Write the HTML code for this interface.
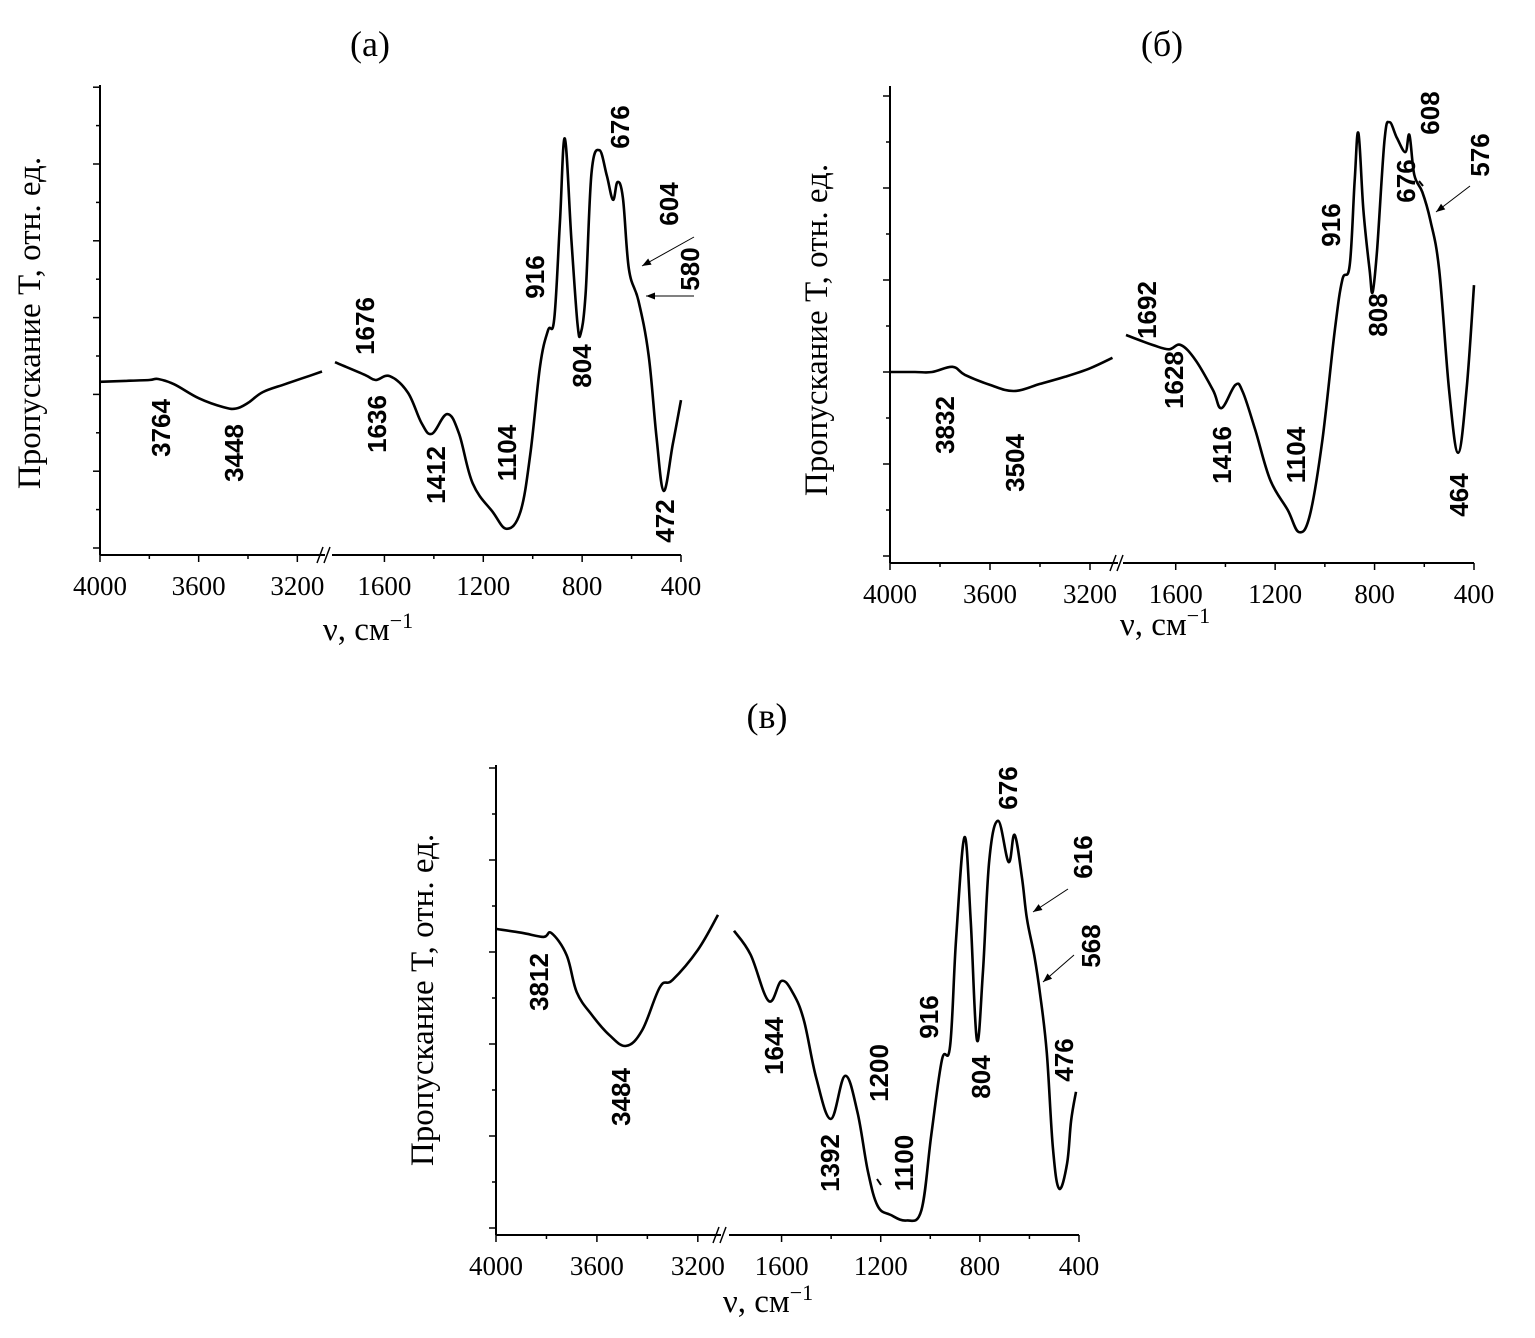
<!DOCTYPE html>
<html><head><meta charset="utf-8">
<style>
html,body{margin:0;padding:0;background:#fff;}
svg{display:block;}
.tick{font-family:"Liberation Serif",serif;font-size:27px;fill:#000;}
.ann{font-family:"Liberation Sans",sans-serif;font-weight:bold;font-size:26px;fill:#000;}
.ttl{font-family:"Liberation Serif",serif;font-size:36px;fill:#000;}
.axt{font-family:"Liberation Serif","DejaVu Serif",serif;font-size:33px;fill:#000;}
</style></head>
<body>
<svg id="fig" width="1535" height="1338" viewBox="0 0 1535 1338" xmlns="http://www.w3.org/2000/svg"></svg>
<script>
// ---- data: [wavenumber, transmittance (rel. units 0..100)] ----
const specA_left = [[4000,37],[3900,37.2],[3800,37.4],[3764,37.6],[3700,36.5],[3600,33.5],[3500,31.6],[3448,31.3],[3400,32.5],[3340,34.8],[3250,36.5],[3150,38.3],[3100,39.2]];
const specA_right = [[1800,41.2],[1680,38.5],[1636,37.4],[1578,38.2],[1505,34.7],[1450,28.2],[1408,25.9],[1346,30.1],[1298,25.9],[1243,15.3],[1162,9.2],[1105,5.6],[1050,9.2],[1010,21.4],[970,40.4],[938,48],[913,50.4],[890,71],[870,89],[843,67],[819,49.6],[806,47.3],[786,55.8],[762,81.6],[730,86.5],[700,81],[675,75.9],[657,79.7],[635,76.3],[611,61.1],[572,54.3],[531,42.7],[499,25.2],[470,13.7],[433,23.7],[400,33.1]];
const specB_left = [[4000,40.2],[3900,40.2],[3832,40.2],[3750,41.3],[3700,39.6],[3600,37.5],[3504,36.2],[3400,37.7],[3300,39.2],[3200,41],[3110,43.2]];
const specB_right = [[1800,48],[1692,45.9],[1628,45],[1580,45.9],[1520,42.7],[1450,36.4],[1416,32.6],[1360,37.5],[1330,36],[1280,28],[1220,17.5],[1150,11.2],[1104,6.5],[1060,10.1],[1010,25.9],[960,49],[930,59.6],[900,62.7],[880,80.6],[865,90.5],[845,74.3],[820,61.7],[808,57],[790,65.9],[760,89],[740,92.8],[710,89.5],[676,86.5],[660,90.1],[640,81.7],[608,78.1],[576,72.2],[540,61.7],[500,36.4],[464,23.2],[430,36.4],[400,58.5]];
const specC_left = [[4000,65.4],[3900,64.6],[3812,63.7],[3780,64.5],[3720,59.8],[3680,51.9],[3620,47],[3550,42.7],[3484,40.4],[3420,43.8],[3350,53],[3300,54.5],[3200,60.9],[3120,68.4]];
const specC_right = [[1792,65],[1725,59.9],[1652,50],[1600,54.3],[1552,51.5],[1509,45.7],[1460,33.5],[1401,24.8],[1344,34],[1294,26.3],[1252,13.7],[1212,6.2],[1160,4.3],[1096,3.1],[1036,5.3],[996,21.4],[953,37.4],[920,40.4],[896,63.3],[862,85],[837,67.2],[812,41.7],[788,55.8],[762,80.1],[726,88.5],[684,79.7],[660,85.5],[630,76.3],[610,67.5],[580,59.6],[556,51.1],[530,38.9],[505,18.4],[480,9.9],[448,15.3],[432,24.4],[412,30.6]];
const tickLeft = [4000,3600,3200];
const tickRight = [1600,1200,800,400];
const tickLabelsLeft = ["4000","3600","3200"];
const tickLabelsRight = ["1600","1200","800","400"];
const labelsA = ["3764","3448","1676","1636","1412","1104","916","804","676","604","580","472"];
const labelsB = ["3832","3504","1692","1628","1416","1104","916","808","676","608","576","464"];
const labelsC = ["3812","3484","1644","1392","1200","1100","916","804","676","616","568","476"];

const NS="http://www.w3.org/2000/svg";
const svg=document.getElementById('fig');
function el(tag,attrs,parent){const e=document.createElementNS(NS,tag);for(const k in attrs)e.setAttribute(k,attrs[k]);(parent||svg).appendChild(e);return e;}
function smooth(pts){
  let d='M'+pts[0][0].toFixed(1)+' '+pts[0][1].toFixed(1);
  for(let i=0;i<pts.length-1;i++){
    const p0=pts[i-1]||pts[i],p1=pts[i],p2=pts[i+1],p3=pts[i+2]||p2;
    const t=0.18;
    const c1=[p1[0]+(p2[0]-p0[0])*t,p1[1]+(p2[1]-p0[1])*t];
    const c2=[p2[0]-(p3[0]-p1[0])*t,p2[1]-(p3[1]-p1[1])*t];
    d+=` C${c1[0].toFixed(1)} ${c1[1].toFixed(1)} ${c2[0].toFixed(1)} ${c2[1].toFixed(1)} ${p2[0].toFixed(1)} ${p2[1].toFixed(1)}`;
  }
  return d;
}

const panels=[
 {id:'a',title:'(а)',tx:370,ty:56,X0:100,Y0:555,Ytop:87,lEnd:322,rStart:335,X1:681,lDom:[4000,3100],rDom:[1800,400],minor:38.4,left:specA_left,right:specA_right,
  labels:labelsA,lpos:[[161,428],[234,453],[365,326],[377,424],[436,475],[507,453],[535,277],[582,366],[620,127],[669,204],[690,269],[665,521]],
  arrows:[[694,237,642,266],[694,296,646,296]],marks:[],yt:[30,323],xt:[368,640]},
 {id:'b',title:'(б)',tx:1162,ty:56,X0:890,Y0:563,Ytop:88,lEnd:1115,rStart:1126,X1:1474,lDom:[4000,3100],rDom:[1800,400],minor:46,left:specB_left,right:specB_right,
  labels:labelsB,lpos:[[945,425],[1015,463],[1147,310],[1174,380],[1222,455],[1296,455],[1331,225],[1378,315],[1406,181],[1430,113],[1480,155],[1459,495]],
  arrows:[[1470,186,1436,212]],marks:[[1419,181,1423,186]],yt:[817,330],xt:[1165,635]},
 {id:'c',title:'(в)',tx:767,ty:728,X0:496,Y0:1235,Ytop:767,lEnd:718,rStart:732,X1:1079,lDom:[4000,3120],rDom:[1800,400],minor:46,left:specC_left,right:specC_right,
  labels:labelsC,lpos:[[539,982],[621,1097],[774,1046],[830,1163],[879,1073],[904,1163],[929,1017],[981,1077],[1008,788],[1083,857],[1091,946],[1064,1060]],
  arrows:[[1068,889,1033,912],[1074,955,1043,982]],marks:[[877,1179,881,1185]],yt:[423,1000],xt:[768,1312]}
];

panels.forEach(p=>{
  const g=el('g',{});
  
  
  const lScale=(p.lEnd-p.X0)/(p.lDom[0]-p.lDom[1]);
  const rScale=(p.X1-p.rStart)/(p.rDom[0]-p.rDom[1]);
  const xL=w=>p.X0+(p.lDom[0]-w)*lScale;
  const xR=w=>p.rStart+(p.rDom[0]-w)*rScale;
  const y=v=>p.Y0-(v/100)*(p.Y0-p.Ytop);
  const t=el('text',{x:p.tx,y:p.ty,'text-anchor':'middle',class:'ttl'},g);t.textContent=p.title;
  
  
  const ya=el('line',{x1:p.X0,y1:p.Ytop-2,x2:p.X0,y2:p.Y0,stroke:'#000','stroke-width':2},g);
  
  
  const xa1=el('line',{x1:p.X0,y1:p.Y0,x2:p.lEnd+3,y2:p.Y0,stroke:'#000','stroke-width':2},g);
  
  
  const xa2=el('line',{x1:p.rStart-3,y1:p.Y0,x2:p.X1,y2:p.Y0,stroke:'#000','stroke-width':2},g);
  
  
  [p.lEnd-2,p.lEnd+5].forEach(bx=>{
    const b=el('line',{x1:bx-3,y1:p.Y0+8,x2:bx+3,y2:p.Y0-8,stroke:'#000','stroke-width':1.5},g);
    
    
  });
  let i=0;
  for(let yy=p.Y0-7;yy>=p.Ytop-1;yy-=p.minor){
    const len=(i%2===0)?7:4;
    const tk=el('line',{x1:p.X0-len,y1:yy,x2:p.X0,y2:yy,stroke:'#000','stroke-width':1.5},g);
    
    
    i++;
  }
  const ticks=[];
  tickLeft.forEach((w,k)=>ticks.push([xL(w),tickLabelsLeft[k]]));
  tickRight.forEach((w,k)=>ticks.push([xR(w),tickLabelsRight[k]]));
  ticks.forEach(([tx,lab])=>{
    const tk=el('line',{x1:tx,y1:p.Y0,x2:tx,y2:p.Y0+7,stroke:'#000','stroke-width':1.5},g);
    
    
    const tl=el('text',{x:tx,y:p.Y0+40,'text-anchor':'middle',class:'tick'},g);tl.textContent=lab;
    
    
  });
  [[xL(3800)],[xL(3400)],[xR(1400)],[xR(1000)],[xR(600)]].forEach(([tx])=>{
    const tk=el('line',{x1:tx,y1:p.Y0,x2:tx,y2:p.Y0+4,stroke:'#000','stroke-width':1.5},g);
    
    
  });
  const dl=smooth(p.left.map(d=>[xL(d[0]),y(d[1])]));
  const dr=smooth(p.right.map(d=>[xR(d[0]),y(d[1])]));
  const c1=el('path',{d:dl,fill:'none',stroke:'#000','stroke-width':2.6,'stroke-linejoin':'round'},g);
  
  
  const c2=el('path',{d:dr,fill:'none',stroke:'#000','stroke-width':2.6,'stroke-linejoin':'round'},g);
  
  
  p.labels.forEach((lab,k)=>{
    const [ax,ay]=p.lpos[k];
    const a=el('text',{x:0,y:0,'text-anchor':'middle','dominant-baseline':'central',class:'ann',transform:`translate(${ax},${ay}) rotate(-90)`},g);
    a.textContent=lab;
    
    
  });
  p.arrows.forEach(([x1,y1,x2,y2])=>{
    const l=el('line',{x1,y1,x2,y2,stroke:'#000','stroke-width':1},g);
    
    
    const ang=Math.atan2(y2-y1,x2-x1);
    const s=9,w=3.5;
    const bx=x2-s*Math.cos(ang),by=y2-s*Math.sin(ang);
    const pts=`${x2},${y2} ${bx-w*Math.sin(ang)},${by+w*Math.cos(ang)} ${bx+w*Math.sin(ang)},${by-w*Math.cos(ang)}`;
    const h=el('polygon',{points:pts,fill:'#000'},g);
    
    
  });
  p.marks.forEach(([x1,y1,x2,y2])=>{
    const m=el('line',{x1,y1,x2,y2,stroke:'#000','stroke-width':2},g);
    
    
  });
  const yt=el('text',{x:0,y:0,'text-anchor':'middle','dominant-baseline':'central',class:'axt',transform:`translate(${p.yt[0]},${p.yt[1]}) rotate(-90)`},g);
  yt.textContent='Пропускание T, отн. ед.';
  
  
  const xt=el('text',{x:p.xt[0],y:p.xt[1],'text-anchor':'middle',class:'axt'},g);
  xt.innerHTML='ν, см<tspan dy="-12" font-size="22">−1</tspan>';
  
  
});
</script>
</body></html>
